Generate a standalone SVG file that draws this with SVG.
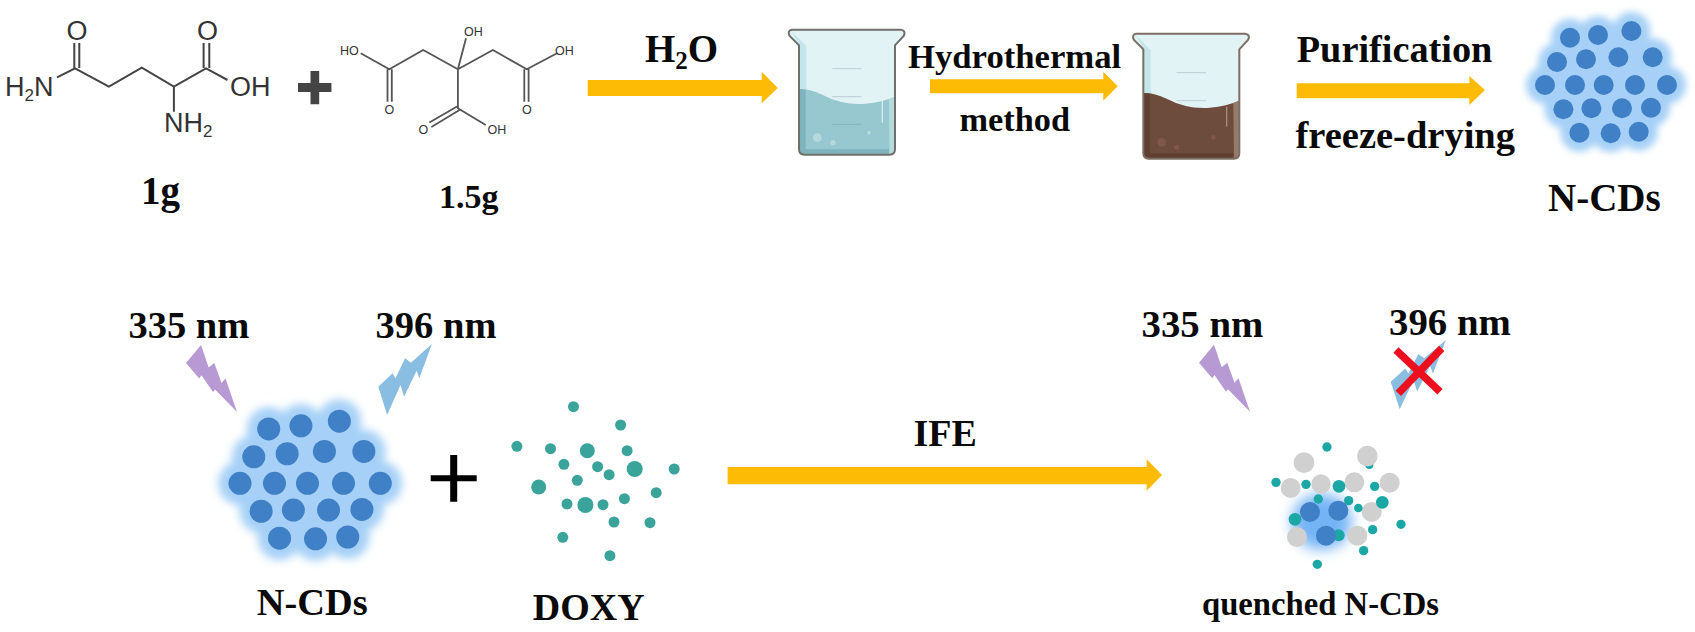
<svg xmlns="http://www.w3.org/2000/svg" width="1695" height="632" viewBox="0 0 1695 632">
<style>
.t{font-family:"Liberation Serif","Times New Roman",serif;font-weight:bold;fill:#0a0a0a}
.c{font-family:"Liberation Sans",Arial,sans-serif;fill:#333}
.c1{font-size:27px}.c2{font-size:12.5px}
.b1{fill:none;stroke:#444;stroke-width:2}
.b2{fill:none;stroke:#555;stroke-width:1.8}
.arr{fill:#fdbb05}
.dk{fill:#3f80c6}.ha{fill:#a6d0f7}
.doxy{fill:#3aa39a}.gr{fill:#d0d0d0}.tl{fill:#1aa7a5}
</style>
<defs>
<filter id="blur" x="-30%" y="-30%" width="160%" height="160%"><feGaussianBlur stdDeviation="3.6"/></filter>
<filter id="blur2" x="-50%" y="-50%" width="200%" height="200%"><feGaussianBlur stdDeviation="20"/></filter>
<filter id="soft" x="-30%" y="-30%" width="160%" height="160%"><feGaussianBlur stdDeviation="0.5"/></filter>
<path id="beakerShape" d="M48,71H376Q392,74 384,90L358,118V430Q358,446 342,446H86Q70,446 70,430V118L42,90Q34,74 48,71Z"/>
<path id="liquid" d="M70,249Q100,247 140,266Q200,298 270,293Q320,288 358,272V430Q358,446 342,446H86Q70,446 70,430Z"/>
<path id="boltP" d="M0,0L7.7,22.6 13.3,18 20.5,38 24.5,33.5 36,67 14,44.5 12,47 0.5,30.3 -1.8,33.6 -15,18Z" fill="#b79ad3"/>
<path id="boltB" d="M431.9,344L419.3,378.3 416.6,370.7 404,396.7 400.5,385 387.1,415 378.3,386.7 392.5,373.3 395.5,378.3 405.1,358.3 410.9,362.7Z" fill="#8abde2"/>
<g id="halo" class="ha" filter="url(#blur)">
<circle cx="-33.7" cy="-47.3" r="19"/><circle cx="-5.7" cy="-50" r="19"/><circle cx="27.7" cy="-54" r="19"/>
<circle cx="-46.7" cy="-23" r="19"/><circle cx="-17.7" cy="-25.7" r="19"/><circle cx="14.7" cy="-27.7" r="19"/><circle cx="49" cy="-27.7" r="19"/>
<circle cx="-58.7" cy="0" r="19"/><circle cx="-28.7" cy="0" r="19"/><circle cx="0" cy="0" r="19"/><circle cx="31.3" cy="0" r="19"/><circle cx="63.3" cy="0" r="19"/>
<circle cx="-40.3" cy="24.3" r="19"/><circle cx="-12.3" cy="23.3" r="19"/><circle cx="18.3" cy="23.3" r="19"/><circle cx="47.3" cy="22.7" r="19"/>
<circle cx="-24.3" cy="47.7" r="19"/><circle cx="7" cy="48.3" r="19"/><circle cx="35" cy="46.7" r="19"/>
</g>
<g id="dots" class="dk" filter="url(#soft)">
<circle cx="-33.7" cy="-47.3" r="10"/><circle cx="-5.7" cy="-50" r="10"/><circle cx="27.7" cy="-54" r="10"/>
<circle cx="-46.7" cy="-23" r="10"/><circle cx="-17.7" cy="-25.7" r="10"/><circle cx="14.7" cy="-27.7" r="10"/><circle cx="49" cy="-27.7" r="10"/>
<circle cx="-58.7" cy="0" r="10"/><circle cx="-28.7" cy="0" r="10"/><circle cx="0" cy="0" r="10"/><circle cx="31.3" cy="0" r="10"/><circle cx="63.3" cy="0" r="10"/>
<circle cx="-40.3" cy="24.3" r="10"/><circle cx="-12.3" cy="23.3" r="10"/><circle cx="18.3" cy="23.3" r="10"/><circle cx="47.3" cy="22.7" r="10"/>
<circle cx="-24.3" cy="47.7" r="10"/><circle cx="7" cy="48.3" r="10"/><circle cx="35" cy="46.7" r="10"/>
</g>
</defs>
<rect width="1695" height="632" fill="#fff"/>

<g id="glutamine">
<path class="b1" d="M57,77.3L75,68.3 108.9,86.7 141.8,67.7 173.9,86.7 206,68.3 227.5,80M173.9,86.7V111.7M74.3,43V68M79.3,43V68M203.6,43V68M209.3,43V68"/>
<text class="c c1" x="66.5" y="40">O</text>
<text class="c c1" x="197" y="40">O</text>
<text class="c c1" x="5" y="96">H<tspan font-size="17" dy="5">2</tspan><tspan dy="-5">N</tspan></text>
<text class="c c1" x="230" y="96">OH</text>
<text class="c c1" x="164" y="132">NH<tspan font-size="17" dy="5">2</tspan></text>
<text class="t" x="141" y="204" font-size="39">1g</text>
</g>
<g id="plus-top"><path fill="#444" d="M298,83H310.5V71H319.2V83H331.4V92H319.2V104.3H310.5V92H298Z"/></g>
<g id="citric-acid">
<path class="b2" d="M360.7,53.3L389.3,69.3 423.2,50 457.9,69.3 492.9,50 526.8,69.3 557,53.3M457.9,69.3L466,38.3M457.9,69.3V108.3L485.7,125M387.5,69.3V101.7M391.8,69.3V101.7M524.3,69.3V101.7M528.6,69.3V101.7M457.9,106L429.4,122.5M459.5,110L431.4,127"/>
<text class="c c2" x="340" y="55">HO</text>
<text class="c c2" x="464" y="36">OH</text>
<text class="c c2" x="555" y="55">OH</text>
<text class="c c2" x="384.5" y="114">O</text>
<text class="c c2" x="522" y="114">O</text>
<text class="c c2" x="418.5" y="134">O</text>
<text class="c c2" x="487.5" y="134">OH</text>
<text class="t" x="439" y="208" font-size="34">1.5g</text>
</g>

<g id="connectors">
<polygon class="arr" points="587.7,80 761.7,80 761.7,71.7 777.7,88 761.7,103.3 761.7,96 587.7,96"/>
<polygon class="arr" points="930,79.3 1103.3,79.3 1103.3,71.7 1117.7,86.3 1103.3,100.7 1103.3,93.3 930,93.3"/>
<polygon class="arr" points="1296.7,83.3 1469.3,83.3 1469.3,76 1485,90 1469.3,105 1469.3,98.3 1296.7,98.3"/>
<polygon class="arr" points="727.6,467 1146.7,467 1146.7,459.3 1162,475 1146.7,490.7 1146.7,484.3 727.6,484.3"/>
</g>
<g id="label-h2o"><text class="t" x="645" y="61.7" font-size="39">H<tspan font-size="25" dy="7">2</tspan><tspan dy="-7">O</tspan></text></g>

<g id="beaker-water" transform="translate(775.67,6) scale(.3333)">
<use href="#beakerShape" fill="#e2f3f6"/>
<path d="M46,74L92,120V300H72V118Z" fill="#c4e6ea"/>
<path d="M170,188H258M170,272H258M170,355H258" stroke="#b9cfd2" stroke-width="3"/>
<use href="#liquid" fill="#97c7cf"/>
<path d="M70,249Q80,249 90,253V430H340V446H86Q70,446 70,430Z" fill="#7fb4bd"/>
<path d="M340,279L358,272V430Q358,446 342,446Z" fill="#b5dbdf"/>
<path d="M170,355H258" stroke="#86b5bc" stroke-width="3"/>
<path d="M320,285V350" stroke="#d6ecef" stroke-width="4"/>
<circle cx="125" cy="395" r="13" fill="#b6d9de"/><circle cx="172" cy="410" r="8" fill="#b6d9de"/><circle cx="280" cy="380" r="6" fill="#b6d9de"/>
<use href="#beakerShape" fill="none" stroke="#6f706c" stroke-width="6"/>
</g>
<g id="label-hydrothermal">
<text class="t" x="908" y="68.3" font-size="34.7">Hydrothermal</text>
<text class="t" x="959.5" y="130.7" font-size="34.3">method</text>
</g>
<g id="beaker-brown" transform="translate(1120,10) scale(.3333)">
<use href="#beakerShape" fill="#e2f3f6"/>
<path d="M46,74L92,120V300H72V118Z" fill="#c4e6ea"/>
<path d="M170,188H258M170,272H258" stroke="#b9cfd2" stroke-width="3"/>
<use href="#liquid" fill="#6d4c3d"/>
<path d="M70,249Q80,249 90,253V430H340V446H86Q70,446 70,430Z" fill="#5f4033"/>
<path d="M340,279L358,272V430Q358,446 342,446Z" fill="#977b6a"/>
<path d="M320,290V350" stroke="#a68d7c" stroke-width="4"/>
<circle cx="125" cy="397" r="13" fill="#80574a"/><circle cx="170" cy="412" r="8" fill="#80574a"/><circle cx="280" cy="382" r="7" fill="#80574a"/>
<use href="#beakerShape" fill="none" stroke="#7d6f65" stroke-width="6"/>
</g>
<g id="label-purification">
<text class="t" x="1296.7" y="61.7" font-size="38.3">Purification</text>
<text class="t" x="1295.5" y="148.3" font-size="38.5">freeze-drying</text>
</g>
<g id="ncds-top" transform="translate(1603.7,85)">
<use href="#halo"/><use href="#dots"/>
</g>
<g id="label-ncds-top"><text class="t" x="1548" y="211" font-size="39">N-CDs</text></g>

<g id="ncds-bottom">
<text class="t" x="128.4" y="338.3" font-size="38.5">335 nm</text>
<text class="t" x="375.6" y="338.3" font-size="38.5">396 nm</text>
<use href="#boltP" transform="translate(201,345)"/>
<use href="#boltB"/>
<g transform="translate(307.5,483.3) scale(1.15)"><use href="#halo"/><use href="#dots"/></g>
<text class="t" x="256.7" y="615" font-size="38.4">N-CDs</text>
</g>
<g id="plus-bottom"><path fill="#000" d="M430.7,475.3H450.2V455H457.2V475.3H476.7V481.3H457.2V501.7H450.2V481.3H430.7Z"/></g>
<g id="doxy" class="doxy">
<circle cx="573.5" cy="406.7" r="5.5"/><circle cx="620.6" cy="425" r="5.5"/><circle cx="516.9" cy="446.3" r="5.5"/><circle cx="550.5" cy="448.7" r="5.5"/><circle cx="587.3" cy="450.7" r="7.5"/><circle cx="627.1" cy="450.7" r="5.5"/><circle cx="563.9" cy="464.3" r="5.5"/><circle cx="597.6" cy="466.7" r="5.5"/><circle cx="609.1" cy="474.7" r="5.5"/><circle cx="634.7" cy="469" r="8"/><circle cx="674.2" cy="469" r="5.5"/><circle cx="577.3" cy="480.3" r="5.5"/><circle cx="538.7" cy="487" r="7.5"/><circle cx="656.2" cy="492.7" r="5.5"/><circle cx="624.4" cy="498.7" r="5.5"/><circle cx="567" cy="504" r="5.5"/><circle cx="585.4" cy="505" r="8"/><circle cx="603" cy="504.7" r="5.5"/><circle cx="614" cy="522" r="5.5"/><circle cx="650" cy="522.7" r="5.5"/><circle cx="562.8" cy="537.3" r="5.5"/><circle cx="609.9" cy="555.7" r="5.5"/>
<text class="t" x="532.7" y="620" font-size="38">DOXY</text>
</g>
<g id="label-ife"><text class="t" x="913.5" y="446" font-size="38">IFE</text></g>

<g id="quenched">
<text class="t" x="1141.5" y="337.3" font-size="38.8">335 nm</text>
<text class="t" x="1389" y="335" font-size="38.8">396 nm</text>
<use href="#boltP" transform="translate(1214,344.7)"/>
<use href="#boltB" transform="translate(1001.05,4.26) scale(1.03,.976)"/>
<path d="M1396,350L1440,391.7M1441.7,348.3L1398.3,393.3" stroke="#ee0f1e" stroke-width="7.5" fill="none"/>
<g transform="translate(1240,420) scale(.3333)">
<ellipse cx="245" cy="305" rx="90" ry="84" fill="#74b4f4" filter="url(#blur2)"/>
<circle class="tl" cx="388" cy="135" r="12"/>
<g class="gr"><circle cx="192" cy="128" r="31"/><circle cx="382" cy="108" r="31"/><circle cx="152" cy="204" r="30"/><circle cx="243" cy="192" r="29"/><circle cx="343" cy="187" r="30"/><circle cx="449" cy="188" r="30"/><circle cx="395" cy="276" r="30"/><circle cx="171" cy="351" r="30"/><circle cx="352" cy="347" r="30"/></g>
<g class="tl"><circle cx="261" cy="81" r="14"/><circle cx="108" cy="187" r="14"/><circle cx="198" cy="193" r="14"/><circle cx="297" cy="199" r="19"/><circle cx="404" cy="199" r="14"/><circle cx="427" cy="247" r="19"/><circle cx="235" cy="237" r="14"/><circle cx="326" cy="242" r="14"/><circle cx="355" cy="264" r="13"/><circle cx="483" cy="313" r="14"/><circle cx="398" cy="329" r="14"/><circle cx="371" cy="392" r="14"/><circle cx="232" cy="433" r="14"/><circle cx="165" cy="298" r="19"/><circle cx="296" cy="346" r="18"/></g>
<g class="dk"><circle cx="210" cy="276" r="30"/><circle cx="295" cy="272" r="30"/><circle cx="258" cy="347" r="30"/></g>
</g>
<text class="t" x="1202" y="615" font-size="32.7">quenched N-CDs</text>
</g>
</svg>
